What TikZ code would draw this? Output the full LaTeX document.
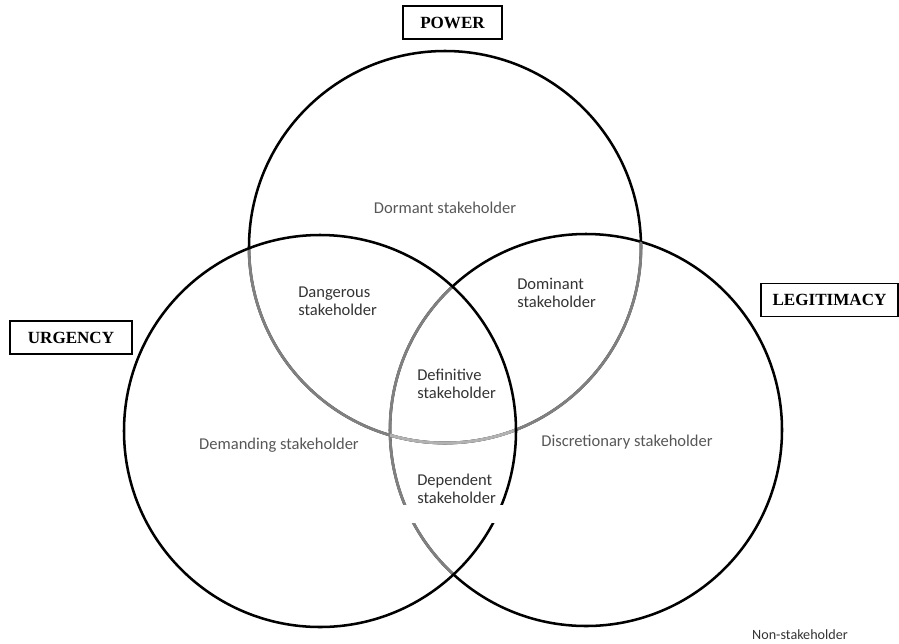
\documentclass[tikz,border=0pt]{standalone}
\usepackage{fontspec}
\setmainfont{Liberation Serif}
\newfontfamily\lblfont{Carlito}
\usepackage{tikz}
\definecolor{arcgray}{rgb}{0.50,0.50,0.50}
\definecolor{arclight}{rgb}{0.70,0.70,0.70}
\definecolor{lblgray}{rgb}{0.34,0.34,0.34}
\definecolor{lbldark}{rgb}{0.20,0.20,0.20}

\begin{document}
\begin{tikzpicture}[x=0.75pt, y=-0.75pt, every node/.style={inner sep=0pt},
  attrbox/.style={draw, line width=1pt, minimum height=24.75pt,
    font=\fontsize{12.8}{14}\selectfont\bfseries},
  region/.style={font=\lblfont\fontsize{12.4}{13.5}\selectfont, text=lblgray},
  inner/.style={region, text=lbldark, anchor=west, align=left}]
  \useasboundingbox (0,0) rectangle (899,643);
  \coordinate (pc) at (445,247);
  \coordinate (uc) at (320,431);
  \coordinate (lc) at (586,430);
  \draw[line width=1.9pt] (pc) circle[radius=147pt];
  \draw[line width=1.9pt] (lc) circle[radius=147pt];
  \begin{scope}
    \clip (uc) circle[radius=147pt];
    \draw[arcgray, line width=2.1pt] (pc) circle[radius=147pt] (lc) circle[radius=147pt];
  \end{scope}
  \begin{scope}
    \clip (lc) circle[radius=147pt];
    \draw[arcgray, line width=2.1pt] (pc) circle[radius=147pt];
    \clip (uc) circle[radius=147pt];
    \draw[arclight, line width=2.1pt] (pc) circle[radius=147pt];
  \end{scope}
  \draw[line width=1.9pt] (uc) circle[radius=147pt];
  \fill[white] (398,505) rectangle (508,523);

  \node[attrbox, minimum width=74.25pt] (power) at (452.5,22.5) {POWER};
  \node[attrbox, minimum width=91.5pt] (urgency) at (71,337.5) {URGENCY};
  \node[attrbox, minimum width=102.75pt] (legitimacy) at (829.5,300) {LEGITIMACY};

  \node[region] (dormant) at (445,208) {Dormant stakeholder};
  \node[inner] (dangerous) at (298,301) {Dangerous\\stakeholder};
  \node[inner] (dominant) at (517,293) {Dominant\\stakeholder};
  \node[inner] (definitive) at (417,383.5) {Definitive\\stakeholder};
  \node[inner] (dependent) at (417,488.5) {Dependent\\stakeholder};
  \node[region] (demanding) at (279,445) {Demanding stakeholder};
  \node[region] (discretionary) at (627,442) {Discretionary stakeholder};
  \node[region, text=lbldark, font=\lblfont\fontsize{10.6}{12}\selectfont] (nonstake) at (800,635) {Non-stakeholder};
\end{tikzpicture}
\end{document}
